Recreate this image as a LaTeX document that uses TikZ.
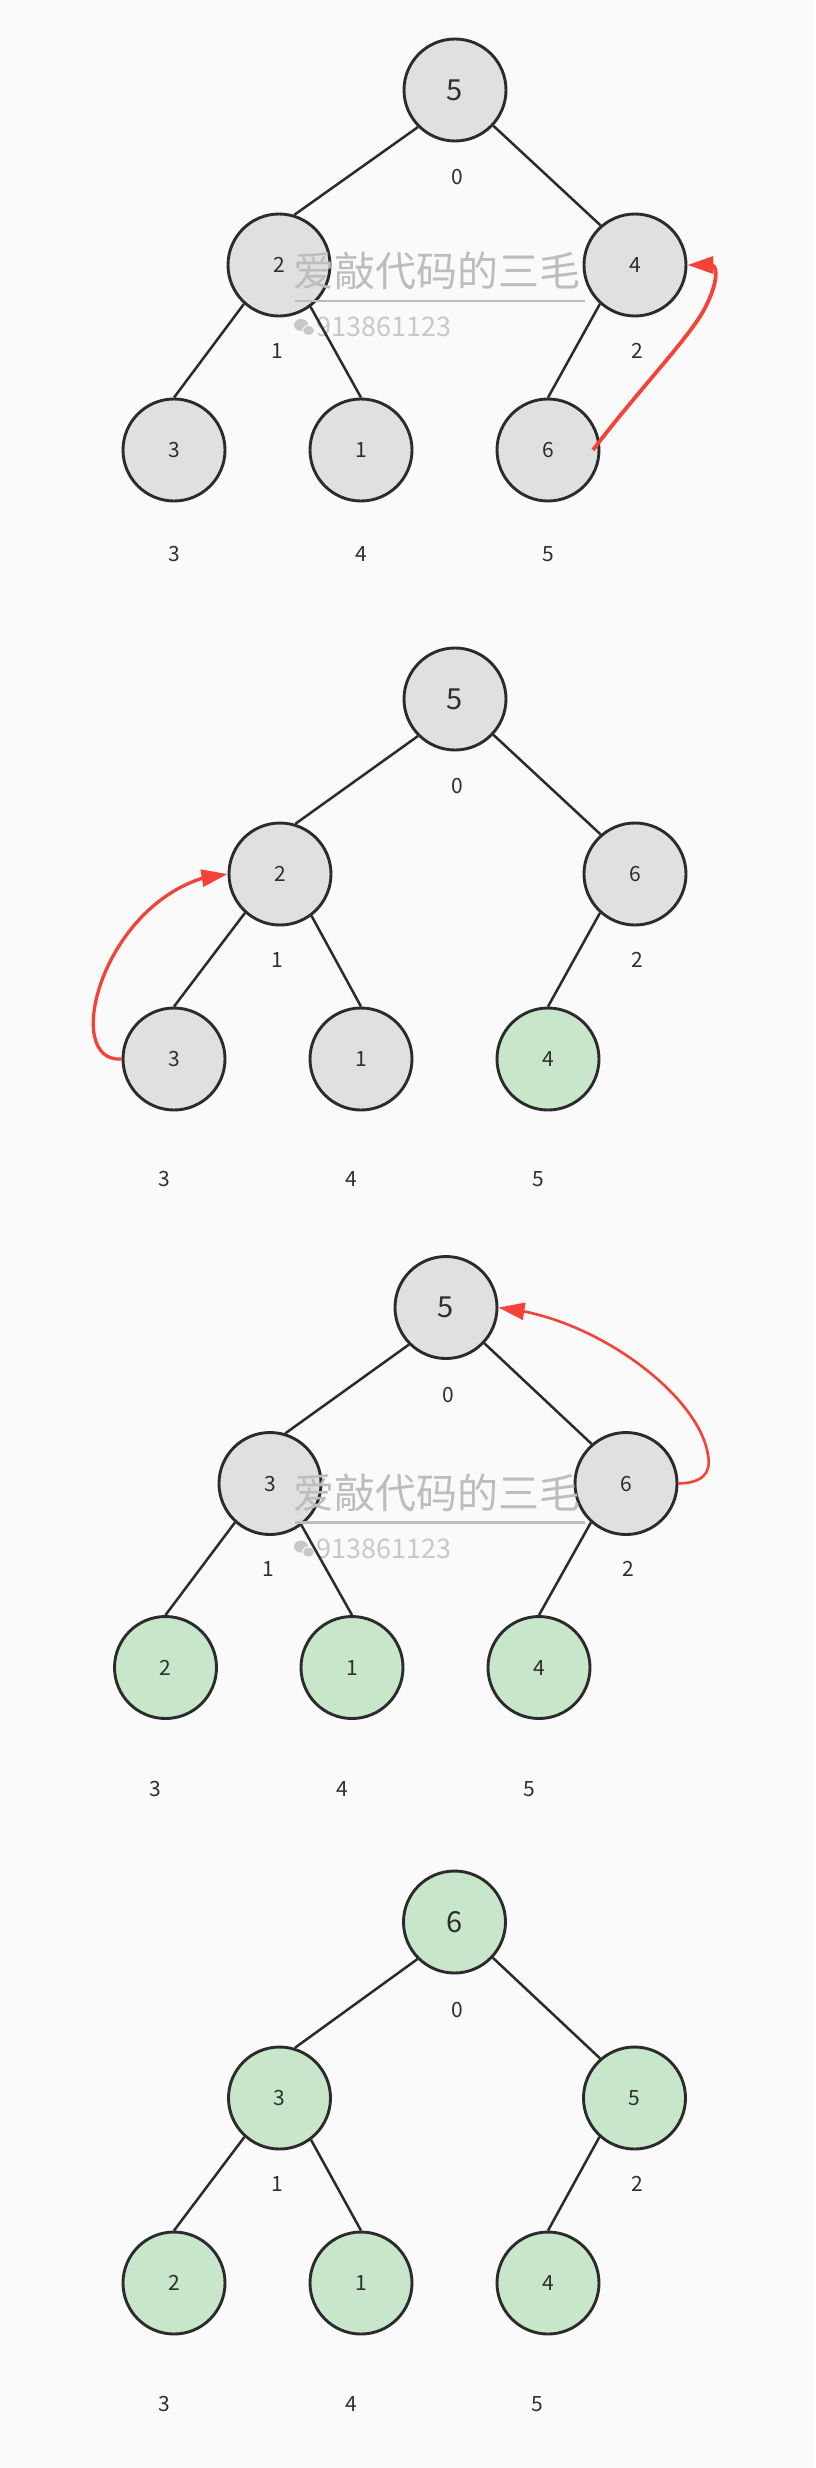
\documentclass[tikz,border=0pt]{standalone}
\usepackage{fontspec}
\setmainfont{Noto Sans CJK SC}
\usetikzlibrary{arrows.meta}
\definecolor{bgc}{HTML}{FAFAFA}
\definecolor{nodegray}{HTML}{E0E0E0}
\definecolor{nodegreen}{HTML}{C8E6C9}
\definecolor{ink}{HTML}{2B2B2B}
\definecolor{txt}{HTML}{2E2E2E}
\definecolor{hl}{HTML}{F44336}
\definecolor{wm}{HTML}{BDBDBD}
\definecolor{wmd}{HTML}{C8C8C8}
\tikzset{
  heapnode/.style={circle, draw=ink, line width=2.9pt, minimum size=102pt, inner sep=0pt, text=txt, font=\fontsize{21}{21}\selectfont},
  rootnode/.style={heapnode, font=\fontsize{29}{29}\selectfont},
  graynode/.style={fill=nodegray},
  greennode/.style={fill=nodegreen},
  idx/.style={text=txt, font=\fontsize{21}{21}\selectfont, inner sep=0pt},
  treeedge/.style={draw=ink, line width=2.5pt},
  swaparrow/.style={draw=hl, line width=3pt, -{Triangle[length=26pt,width=17pt]}},
  wmtext/.style={text=wm, font=\fontsize{41}{41}\selectfont, inner sep=0pt, anchor=west},
  wmnum/.style={text=wmd, font=\fontsize{27}{27}\selectfont, inner sep=0pt, anchor=west},
  wmline/.style={draw=wm, line width=2.5pt},
}
\begin{document}
\begin{tikzpicture}[x=1pt,y=-1pt]
\fill[bgc] (0,0) rectangle (815,2468);
\useasboundingbox (0,0) rectangle (815,2468);

% ---------------- Panel 1 ----------------
\node[rootnode,graynode] (a0) at (455,90) {5};
\node[heapnode,graynode] (a1) at (279,265) {2};
\node[heapnode,graynode] (a2) at (635,265) {4};
\node[heapnode,graynode] (a3) at (174,450) {3};
\node[heapnode,graynode] (a4) at (361,450) {1};
\node[heapnode,graynode] (a5) at (548,450) {6};
\node[idx] (ai0) at (457,177) {0};
\node[idx] (ai1) at (277,351) {1};
\node[idx] (ai2) at (637,351) {2};
\node[idx] (ai3) at (174,554) {3};
\node[idx] (ai4) at (361,554) {4};
\node[idx] (ai5) at (548,554) {5};
% watermark 1
\node[wmtext] (w1) at (293,271) {爱敲代码的三毛};
\draw[wmline] (295,301) -- (585,301);
\fill[wmd] (301,325) ellipse [x radius=7, y radius=6];
\filldraw[fill=wmd, draw=bgc, line width=1pt] (308.5,330.5) ellipse [x radius=6, y radius=5];
\node[wmnum] (w1n) at (316,327) {913861123};
\draw[treeedge] (a0.225) -- (a1.73);
\draw[treeedge] (a0.-43) -- (a2.131);
\draw[treeedge] (a1.228) -- (a3.north);
\draw[treeedge] (a1.307) -- (a4.north);
\draw[treeedge] (a2.228) -- (a5.north);
\coordinate (s1) at (593,450);
\draw[swaparrow, line width=3.8pt] (s1) .. controls (640,388) and (692,335) .. (706,306) .. controls (716,286) and (719,268) .. (712,265) -- (a2.east);

% ---------------- Panel 2 ----------------
\node[rootnode,graynode] (b0) at (455,699) {5};
\node[heapnode,graynode] (b1) at (280,874) {2};
\node[heapnode,graynode] (b2) at (635,874) {6};
\node[heapnode,graynode] (b3) at (174,1059) {3};
\node[heapnode,graynode] (b4) at (361,1059) {1};
\node[heapnode,greennode] (b5) at (548,1059) {4};
\node[idx] (bi0) at (457,786) {0};
\node[idx] (bi1) at (277,960) {1};
\node[idx] (bi2) at (637,960) {2};
\node[idx] (bi3) at (164,1179) {3};
\node[idx] (bi4) at (351,1179) {4};
\node[idx] (bi5) at (538,1179) {5};
\draw[treeedge] (b0.225) -- (b1.73);
\draw[treeedge] (b0.-43) -- (b2.131);
\draw[treeedge] (b1.228) -- (b3.north);
\draw[treeedge] (b1.307) -- (b4.north);
\draw[treeedge] (b2.228) -- (b5.north);
\draw[swaparrow, line width=3.3pt] (b3.west) .. controls (62,1063) and (100,910) .. (203,878) -- (b1.west);

% ---------------- Panel 3 ----------------
\node[rootnode,graynode] (c0) at (446,1307.5) {5};
\node[heapnode,graynode] (c1) at (270,1483.5) {3};
\node[heapnode,graynode] (c2) at (626,1483.5) {6};
\node[heapnode,greennode] (c3) at (165.5,1667.5) {2};
\node[heapnode,greennode] (c4) at (352,1667.5) {1};
\node[heapnode,greennode] (c5) at (539,1667.5) {4};
\node[idx] (ci0) at (448,1395) {0};
\node[idx] (ci1) at (268,1569) {1};
\node[idx] (ci2) at (628,1569) {2};
\node[idx] (ci3) at (155,1789) {3};
\node[idx] (ci4) at (342,1789) {4};
\node[idx] (ci5) at (529,1789) {5};
% watermark 2
\node[wmtext] (w2) at (293,1492.5) {爱敲代码的三毛};
\draw[wmline] (295,1522.5) -- (585,1522.5);
\fill[wmd] (301,1546.5) ellipse [x radius=7, y radius=6];
\filldraw[fill=wmd, draw=bgc, line width=1pt] (308.5,1552) ellipse [x radius=6, y radius=5];
\node[wmnum] (w2n) at (316,1548.5) {913861123};
\draw[treeedge] (c0.225) -- (c1.73);
\draw[treeedge] (c0.-43) -- (c2.131);
\draw[treeedge] (c1.228) -- (c3.north);
\draw[treeedge] (c1.307) -- (c4.north);
\draw[treeedge] (c2.228) -- (c5.north);
\draw[swaparrow, line width=2.6pt] (c2.east) .. controls (700,1483) and (712,1475) .. (708,1455) .. controls (700,1400) and (610,1328) .. (522,1311) -- (c0.east);

% ---------------- Panel 4 ----------------
\node[rootnode,greennode] (d0) at (454.5,1922) {6};
\node[heapnode,greennode] (d1) at (279.5,2098) {3};
\node[heapnode,greennode] (d2) at (634.5,2098) {5};
\node[heapnode,greennode] (d3) at (174,2283) {2};
\node[heapnode,greennode] (d4) at (361,2283) {1};
\node[heapnode,greennode] (d5) at (548,2283) {4};
\node[idx] (di0) at (457,2010) {0};
\node[idx] (di1) at (277,2184) {1};
\node[idx] (di2) at (637,2184) {2};
\node[idx] (di3) at (164,2404) {3};
\node[idx] (di4) at (351,2404) {4};
\node[idx] (di5) at (537.5,2404) {5};
\draw[treeedge] (d0.225) -- (d1.73);
\draw[treeedge] (d0.-43) -- (d2.131);
\draw[treeedge] (d1.228) -- (d3.north);
\draw[treeedge] (d1.307) -- (d4.north);
\draw[treeedge] (d2.228) -- (d5.north);
\end{tikzpicture}
\end{document}
